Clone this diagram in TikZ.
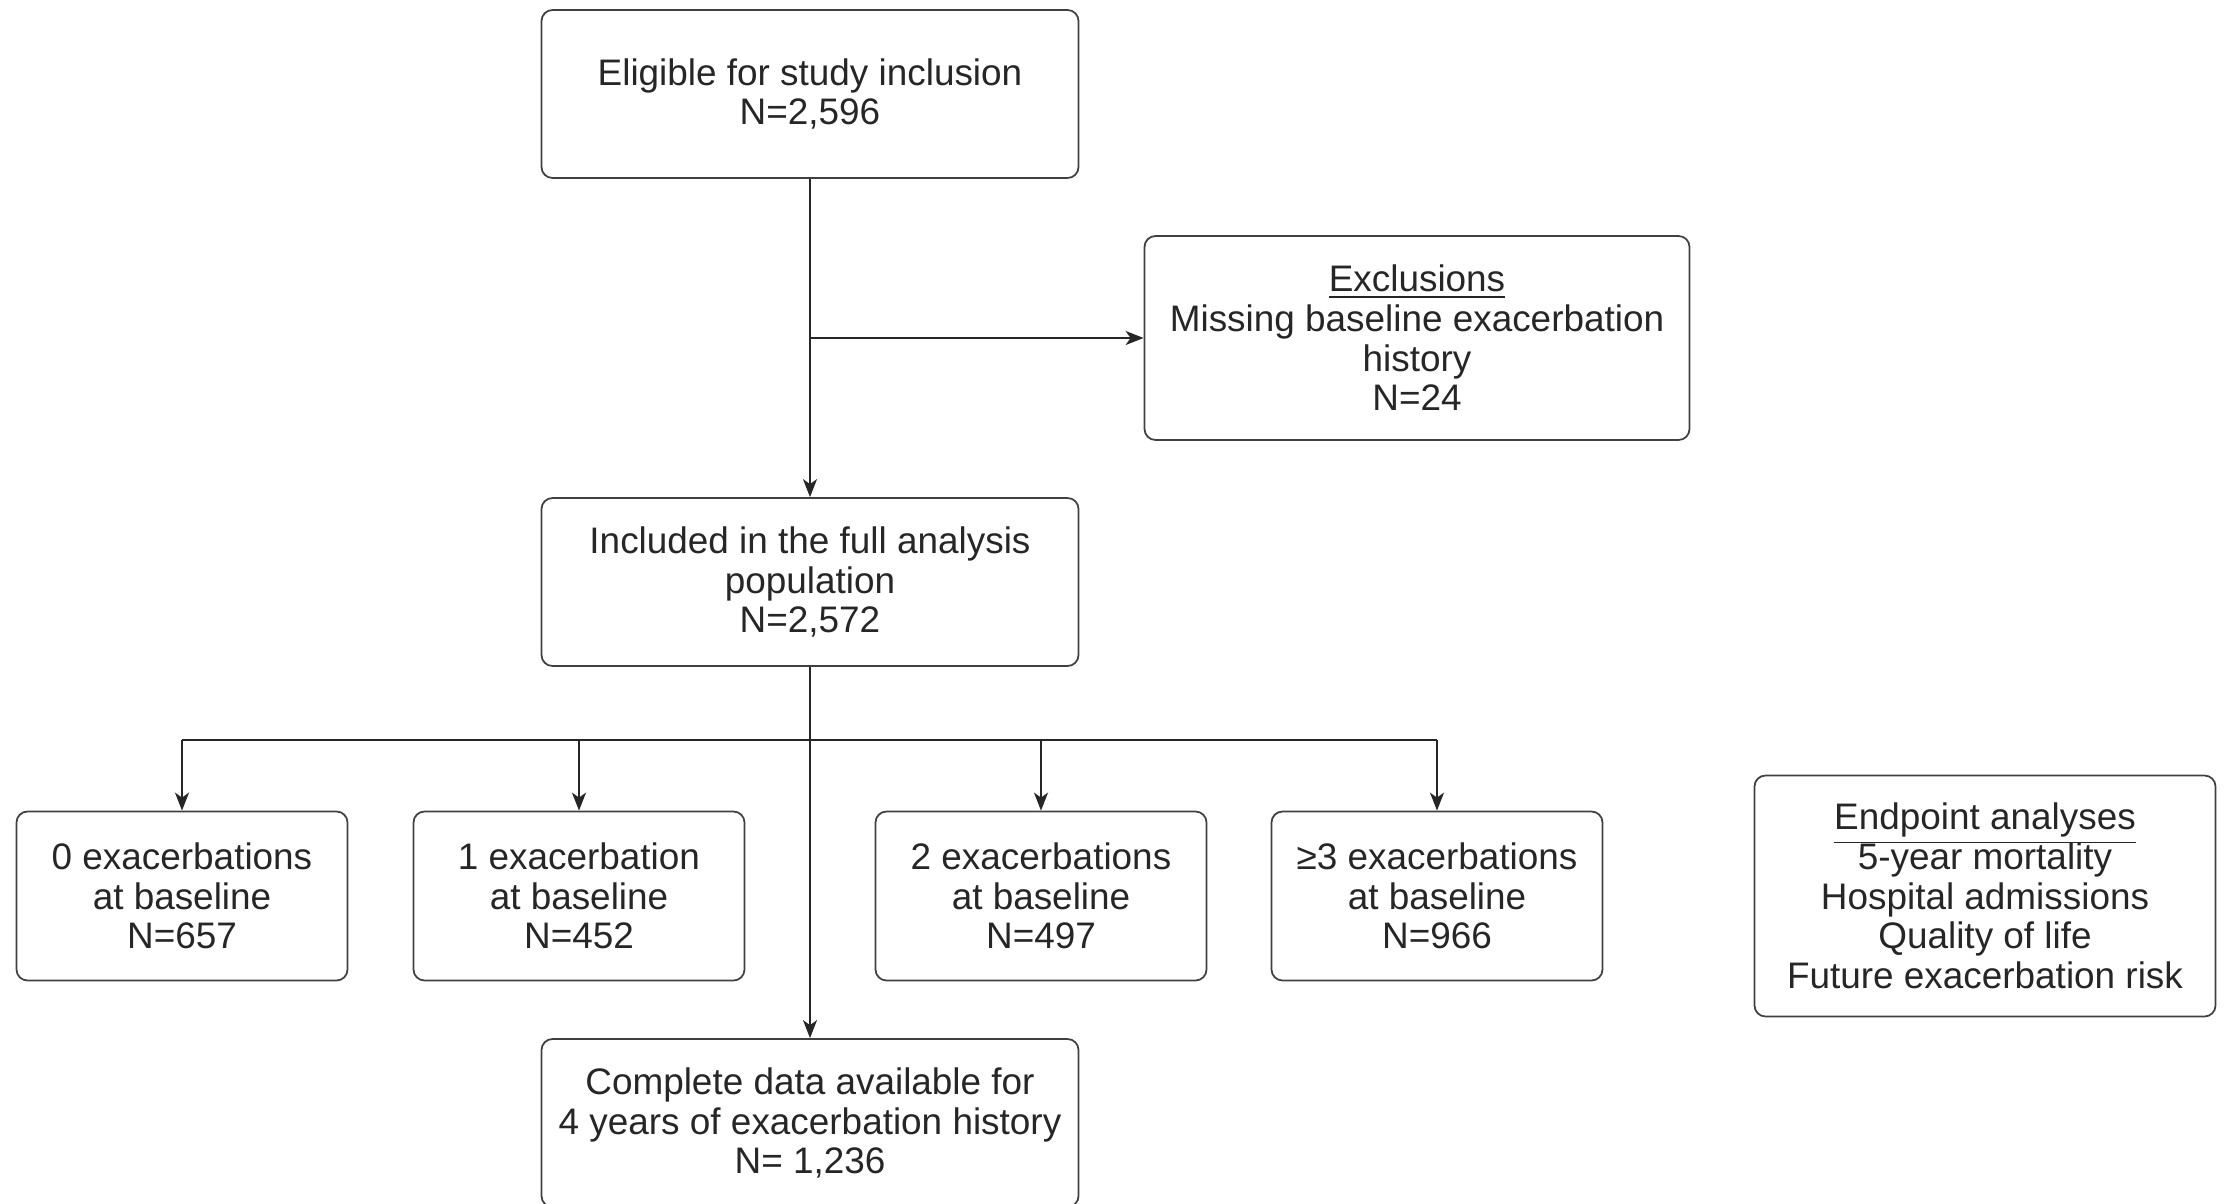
\documentclass[tikz,border=0pt]{standalone}
\usepackage{fontspec}
\setmainfont{Liberation Sans}
\usetikzlibrary{arrows.meta}

\newcommand{\boxtitle}[1]{\raisebox{0pt}[\height][0pt]{\underline{#1}}}

\begin{document}
\begin{tikzpicture}[
	box/.style={draw=black!75, line width=0.5pt, rounded corners=1.1mm, align=center, inner sep=0pt,
		font=\fontsize{10.5}{11.3}\selectfont, text=black!85},
	arr/.style={-{Stealth[length=1.8mm, width=1.4mm, inset=0.5mm]}, line width=0.6pt, black!85}]
	\useasboundingbox (0,0) rectangle (22.31,-12.04);

	\node (eligible)[box, minimum width=5.37cm, minimum height=1.68cm] at (8.10,-0.94) {Eligible for study inclusion\\N=2,596};
	\node (excl)[box, minimum width=5.45cm, minimum height=2.04cm] at (14.17,-3.38) {\boxtitle{Exclusions}\\Missing baseline exacerbation\\history\\N=24};
	\node (included)[box, minimum width=5.37cm, minimum height=1.68cm] at (8.10,-5.82) {Included in the full analysis\\population\\N=2,572};

	\node (ex0)[box, minimum width=3.31cm, minimum height=1.69cm] at (1.82,-8.96) {0 exacerbations\\at baseline\\N=657};
	\node (ex1)[box, minimum width=3.31cm, minimum height=1.69cm] at (5.79,-8.96) {1 exacerbation\\at baseline\\N=452};
	\node (ex2)[box, minimum width=3.31cm, minimum height=1.69cm] at (10.41,-8.96) {2 exacerbations\\at baseline\\N=497};
	\node (ex3)[box, minimum width=3.31cm, minimum height=1.69cm] at (14.37,-8.96) {≥3 exacerbations\\at baseline\\N=966};

	\node (endpoint)[box, minimum width=4.61cm, minimum height=2.41cm] at (19.85,-8.96) {\boxtitle{Endpoint analyses}\\5-year mortality\\Hospital admissions\\Quality of life\\Future exacerbation risk};
	\node (complete)[box, minimum width=5.37cm, minimum height=1.68cm] at (8.10,-11.23) {Complete data available for\\4 years of exacerbation history\\N= 1,236};

	\coordinate (split) at (8.10,-7.40);

	\draw [arr](eligible)--(included);
	\draw [arr](excl.west -| eligible.south)--(excl.west);
	\draw [arr](included)--(complete);

	\draw [line width=0.6pt, black!85](ex0.north |- split)--(ex3.north |- split);
	\foreach \b in {ex0,ex1,ex2,ex3}
		\draw [arr](\b.north |- split)--(\b.north);
\end{tikzpicture}
\end{document}
